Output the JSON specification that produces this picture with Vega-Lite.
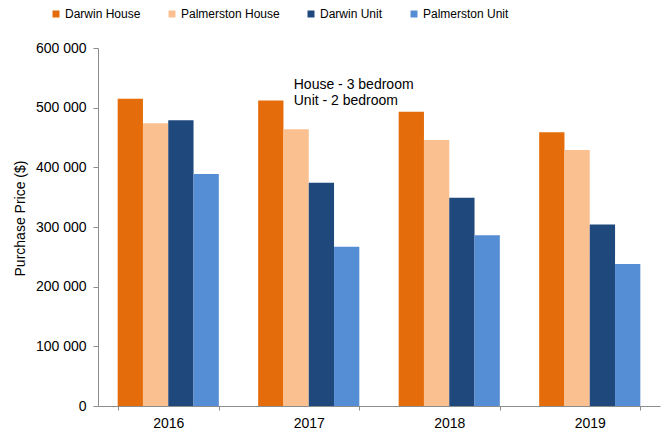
{
  "$schema": "https://vega.github.io/schema/vega-lite/v6.json",
  "width": 562,
  "height": 358,
  "autosize": {"type": "none"},
  "padding": {"left": 98, "top": 48, "right": 5, "bottom": 26},
  "background": "white",
  "config": {
    "font": "Liberation Sans",
    "view": {"stroke": null},
    "axis": {"labelFont": "Liberation Sans", "titleFont": "Liberation Sans", "labelColor": "#000", "titleColor": "#000", "labelFontSize": 14, "titleFontSize": 14, "titleFontWeight": "normal", "domainColor": "#8c8c8c", "tickColor": "#8c8c8c", "grid": false}
  },
  "datasets": {
    "bars": [
      {"year": "2016", "series": "Darwin House", "price": 515000},
      {"year": "2016", "series": "Palmerston House", "price": 474000},
      {"year": "2016", "series": "Darwin Unit", "price": 479000},
      {"year": "2016", "series": "Palmerston Unit", "price": 389000},
      {"year": "2017", "series": "Darwin House", "price": 512000},
      {"year": "2017", "series": "Palmerston House", "price": 464000},
      {"year": "2017", "series": "Darwin Unit", "price": 374000},
      {"year": "2017", "series": "Palmerston Unit", "price": 267000},
      {"year": "2018", "series": "Darwin House", "price": 493000},
      {"year": "2018", "series": "Palmerston House", "price": 446000},
      {"year": "2018", "series": "Darwin Unit", "price": 349000},
      {"year": "2018", "series": "Palmerston Unit", "price": 286000},
      {"year": "2019", "series": "Darwin House", "price": 459000},
      {"year": "2019", "series": "Palmerston House", "price": 429000},
      {"year": "2019", "series": "Darwin Unit", "price": 304000},
      {"year": "2019", "series": "Palmerston Unit", "price": 238000}
    ],
    "notes": [
      {"year": "2017", "price": 531000, "label": "House - 3 bedroom"},
      {"year": "2017", "price": 504000, "label": "Unit - 2 bedroom"}
    ]
  },
  "layer": [
    {
      "data": {"name": "bars"},
      "mark": {"type": "bar"},
      "encoding": {
        "x": {
          "field": "year", "type": "nominal",
          "scale": {"paddingInner": 0.28, "paddingOuter": 0.14},
          "axis": {"title": null, "labelAngle": 0, "tickBand": "extent", "tickSize": 4, "labelPadding": 6, "domainColor": "#8c8c8c"}
        },
        "xOffset": {"field": "series", "type": "nominal", "sort": ["Darwin House", "Palmerston House", "Darwin Unit", "Palmerston Unit"], "scale": {"paddingInner": 0, "paddingOuter": 0}},
        "y": {
          "field": "price", "type": "quantitative",
          "scale": {"domain": [0, 600000], "nice": false},
          "axis": {"title": "Purchase Price ($)", "values": [0, 100000, 200000, 300000, 400000, 500000, 600000], "tickSize": 5, "labelPadding": 7, "labelExpr": "replace(format(datum.value, ','), /,/g, ' ')", "titlePadding": 8, "titleY": 170}
        },
        "color": {
          "field": "series", "type": "nominal",
          "sort": ["Darwin House", "Palmerston House", "Darwin Unit", "Palmerston Unit"],
          "scale": {"domain": ["Darwin House", "Palmerston House", "Darwin Unit", "Palmerston Unit"], "range": ["#E46C0A", "#FAC090", "#1F497D", "#558ED5"]},
          "legend": {"title": null, "orient": "none", "direction": "horizontal", "legendX": -48, "legendY": -40, "symbolType": "square", "symbolSize": 49, "symbolStrokeWidth": 0, "symbolOpacity": 1, "labelFont": "Liberation Sans", "labelFontSize": 12, "labelColor": "#000", "labelOffset": 3, "columnPadding": 25, "padding": 0}
        }
      }
    },
    {
      "data": {"name": "notes"},
      "mark": {"type": "text", "align": "left", "baseline": "alphabetic", "dx": -15, "fontSize": 14, "font": "Liberation Sans", "color": "#000"},
      "encoding": {
        "x": {"field": "year", "type": "nominal"},
        "y": {"field": "price", "type": "quantitative"},
        "text": {"field": "label"}
      }
    }
  ]
}
